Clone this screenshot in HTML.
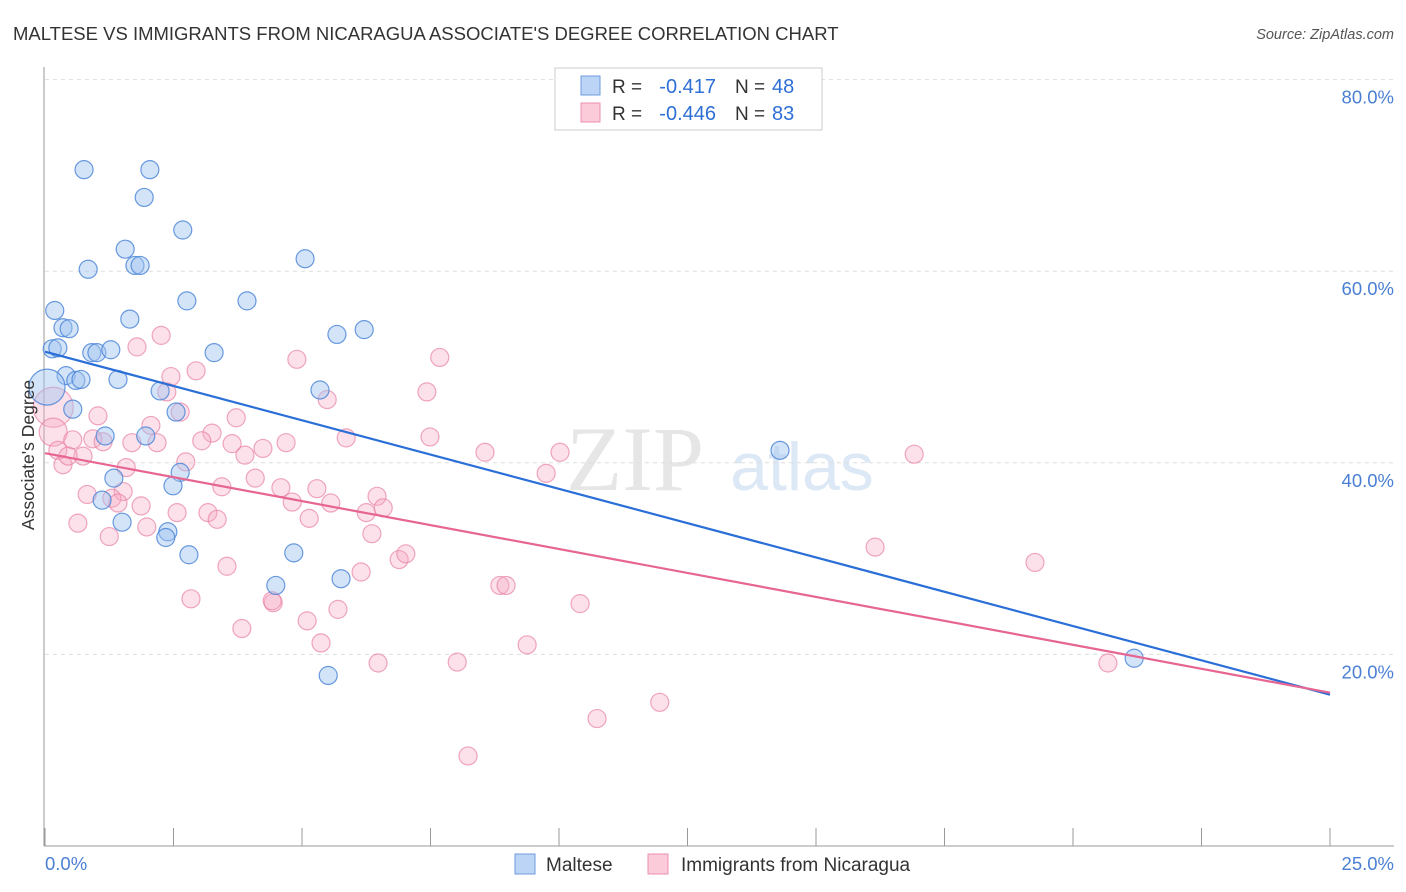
<!DOCTYPE html>
<html><head><meta charset="utf-8"><style>
body{margin:0;background:#fff;font-family:"Liberation Sans",sans-serif;}
svg{display:block}
</style></head><body>
<svg id="chart" width="1406" height="892" xmlns="http://www.w3.org/2000/svg">
<text x="13" y="40" font-size="18.5" fill="#333">MALTESE VS IMMIGRANTS FROM NICARAGUA ASSOCIATE'S DEGREE CORRELATION CHART</text>
<text x="1394" y="39" font-size="14.5" fill="#555" font-style="italic" text-anchor="end">Source: ZipAtlas.com</text>
<g><text x="635" y="490" font-size="92" fill="#e6e6e6" font-family="Liberation Serif" text-anchor="middle">ZIP</text><text x="802" y="490" font-size="68" fill="#dce8f5" text-anchor="middle">atlas</text></g>
<g id="grid"></g>
<g id="axes"></g>
<g id="pts"></g>
<g id="trends"></g>
<text transform="translate(34,455) rotate(-90)" font-size="17.5" fill="#333" text-anchor="middle">Associate's Degree</text>
<text x="45" y="870" font-size="18.5" fill="#4a7fd4">0.0%</text>
<text x="1394" y="870" font-size="18.5" fill="#4a7fd4" text-anchor="end">25.0%</text>
<g>
<rect x="555" y="68" width="267" height="62" fill="#fff" stroke="#ccc"/>
<rect x="581" y="76" width="19" height="19" fill="#bcd4f5" stroke="#6d9be0"/>
<rect x="581" y="103" width="19" height="19" fill="#fbcbd9" stroke="#ec8fae"/>
<text x="612" y="93" font-size="19" fill="#333">R =</text>
<text x="716" y="93" font-size="20" fill="#2e6fd6" text-anchor="end">-0.417</text>
<text x="735" y="93" font-size="19" fill="#333">N =</text>
<text x="772" y="93" font-size="20" fill="#2e6fd6">48</text>
<text x="612" y="120" font-size="19" fill="#333">R =</text>
<text x="716" y="120" font-size="20" fill="#2e6fd6" text-anchor="end">-0.446</text>
<text x="735" y="120" font-size="19" fill="#333">N =</text>
<text x="772" y="120" font-size="20" fill="#2e6fd6">83</text>
</g>
<g>
<rect x="515" y="854" width="20" height="20" fill="#bcd4f5" stroke="#6d9be0"/>
<text x="546" y="871" font-size="19" fill="#333">Maltese</text>
<rect x="648" y="854" width="20" height="20" fill="#fbcbd9" stroke="#ec8fae"/>
<text x="681" y="871" font-size="19" fill="#333">Immigrants from Nicaragua</text>
</g>
</svg>
<script>
const yTicks=[20,40,60,80];
const yTickLabels=["20.0%","40.0%","60.0%","80.0%"];
const xTicks=[0,2.5,5,7.5,10,12.5,15,17.5,20,22.5,25];
const malteseX=[0.76,2.04,1.93,2.68,1.56,0.84,1.75,1.85,5.06,0.19,2.76,3.93,0.35,0.47,1.65,5.68,6.21,0.14,0.25,0.91,1.01,1.28,3.29,0.41,0.60,0.70,1.42,2.24,5.35,0.04,0.54,2.55,1.17,1.96,14.3,2.63,1.34,2.49,1.11,1.50,2.39,2.35,2.80,4.84,4.49,5.76,5.51,21.19];
const malteseY=[70.6,70.6,67.7,64.3,62.3,60.2,60.6,60.6,61.3,55.9,56.9,56.9,54.1,54.0,55.0,53.4,53.9,51.9,52.0,51.5,51.5,51.8,51.5,49.1,48.6,48.7,48.7,47.5,47.6,47.9,45.6,45.3,42.8,42.8,41.3,39.0,38.4,37.6,36.1,33.8,32.8,32.2,30.4,30.6,27.2,27.9,17.8,19.6];
const malteseBig=[29];
const nicX=[0.16,1.03,0.16,0.54,0.93,1.13,1.69,2.06,2.18,0.25,0.74,0.35,0.45,1.58,2.63,2.37,3.72,3.25,3.05,3.64,3.89,4.24,4.69,5.86,5.49,2.74,0.82,1.52,1.30,1.42,1.87,2.57,3.17,3.35,3.44,4.09,4.59,4.81,5.29,5.56,5.14,6.25,6.46,6.58,6.36,6.89,7.02,6.15,5.70,5.37,5.10,4.44,4.42,3.83,3.54,2.84,1.98,1.25,0.64,6.48,2.26,1.79,2.94,2.45,4.90,7.68,7.43,7.49,8.56,10.02,9.75,8.85,8.97,10.41,9.38,8.02,10.74,11.96,8.23,16.91,16.15,19.26,20.68];
const nicY=[45.8,44.9,43.2,42.4,42.5,42.2,42.1,43.9,42.1,41.3,40.7,39.8,40.7,39.5,45.3,47.4,44.7,43.1,42.3,42.0,40.8,41.5,42.1,42.6,46.6,40.1,36.7,37.0,36.3,35.8,35.5,34.8,34.8,34.1,37.5,38.4,37.4,35.9,37.3,35.8,34.2,34.8,36.5,35.3,32.6,29.9,30.5,28.6,24.7,21.2,23.5,25.4,25.6,22.7,29.2,25.8,33.3,32.3,33.7,19.1,53.3,52.1,49.6,49.0,50.8,51.0,47.4,42.7,41.1,41.1,38.9,27.2,27.2,25.3,21.0,19.2,13.3,15.0,9.4,40.9,31.2,29.6,19.1];
const nicBig=[0,2];
const trendX=[0,25];
const malteseTrend=[51.6,15.8];
const nicTrend=[41.0,16.0];

const X=v=>45+v*51.4;
const Y=v=>846-v*9.58;
const NS="http://www.w3.org/2000/svg";
function mk(tag,attrs,parent){const e=document.createElementNS(NS,tag);for(const k in attrs)e.setAttribute(k,attrs[k]);parent.appendChild(e);return e;}
const grid=document.getElementById('grid'),axes=document.getElementById('axes'),pts=document.getElementById('pts'),tr=document.getElementById('trends');
yTicks.forEach((t,i)=>{
  const l=mk('line',{x1:45,x2:1394,y1:Y(t),y2:Y(t),stroke:'#ddd','stroke-dasharray':'4,4'},grid);
  
  
  const tx=mk('text',{x:1394,y:Y(t)+24,'font-size':18.5,fill:'#4a7fd4','text-anchor':'end'},grid);
  tx.textContent=yTickLabels[i];
  
  
});
const ya=mk('line',{x1:44,x2:44,y1:67,y2:846,stroke:'#999'},axes);


const xa=mk('line',{x1:44,x2:1394,y1:846,y2:846,stroke:'#999'},axes);


xTicks.forEach(t=>{
  const l=mk('line',{x1:X(t),x2:X(t),y1:828,y2:846,stroke:'#999'},axes);
  
  
});
nicX.forEach((v,i)=>{
  const c=mk('circle',{cx:X(v),cy:Y(nicY[i]),r:nicBig.includes(i)?(i==0?20:14):9,fill:'rgba(246,170,195,0.35)',stroke:'rgba(232,130,165,0.7)','stroke-width':1.2},pts);
  
  
});
malteseX.forEach((v,i)=>{
  const c=mk('circle',{cx:X(v),cy:Y(malteseY[i]),r:malteseBig.includes(i)?18:9,fill:'rgba(160,195,240,0.45)',stroke:'rgba(70,130,215,0.8)','stroke-width':1.2},pts);
  
  
});
const lb=mk('line',{x1:X(trendX[0]),y1:Y(malteseTrend[0]),x2:X(trendX[1]),y2:Y(malteseTrend[1]),stroke:'#2a6fd8','stroke-width':2.2},tr);


const lp=mk('line',{x1:X(trendX[0]),y1:Y(nicTrend[0]),x2:X(trendX[1]),y2:Y(nicTrend[1]),stroke:'#e66592','stroke-width':2.2},tr);


</script>
</body></html>
